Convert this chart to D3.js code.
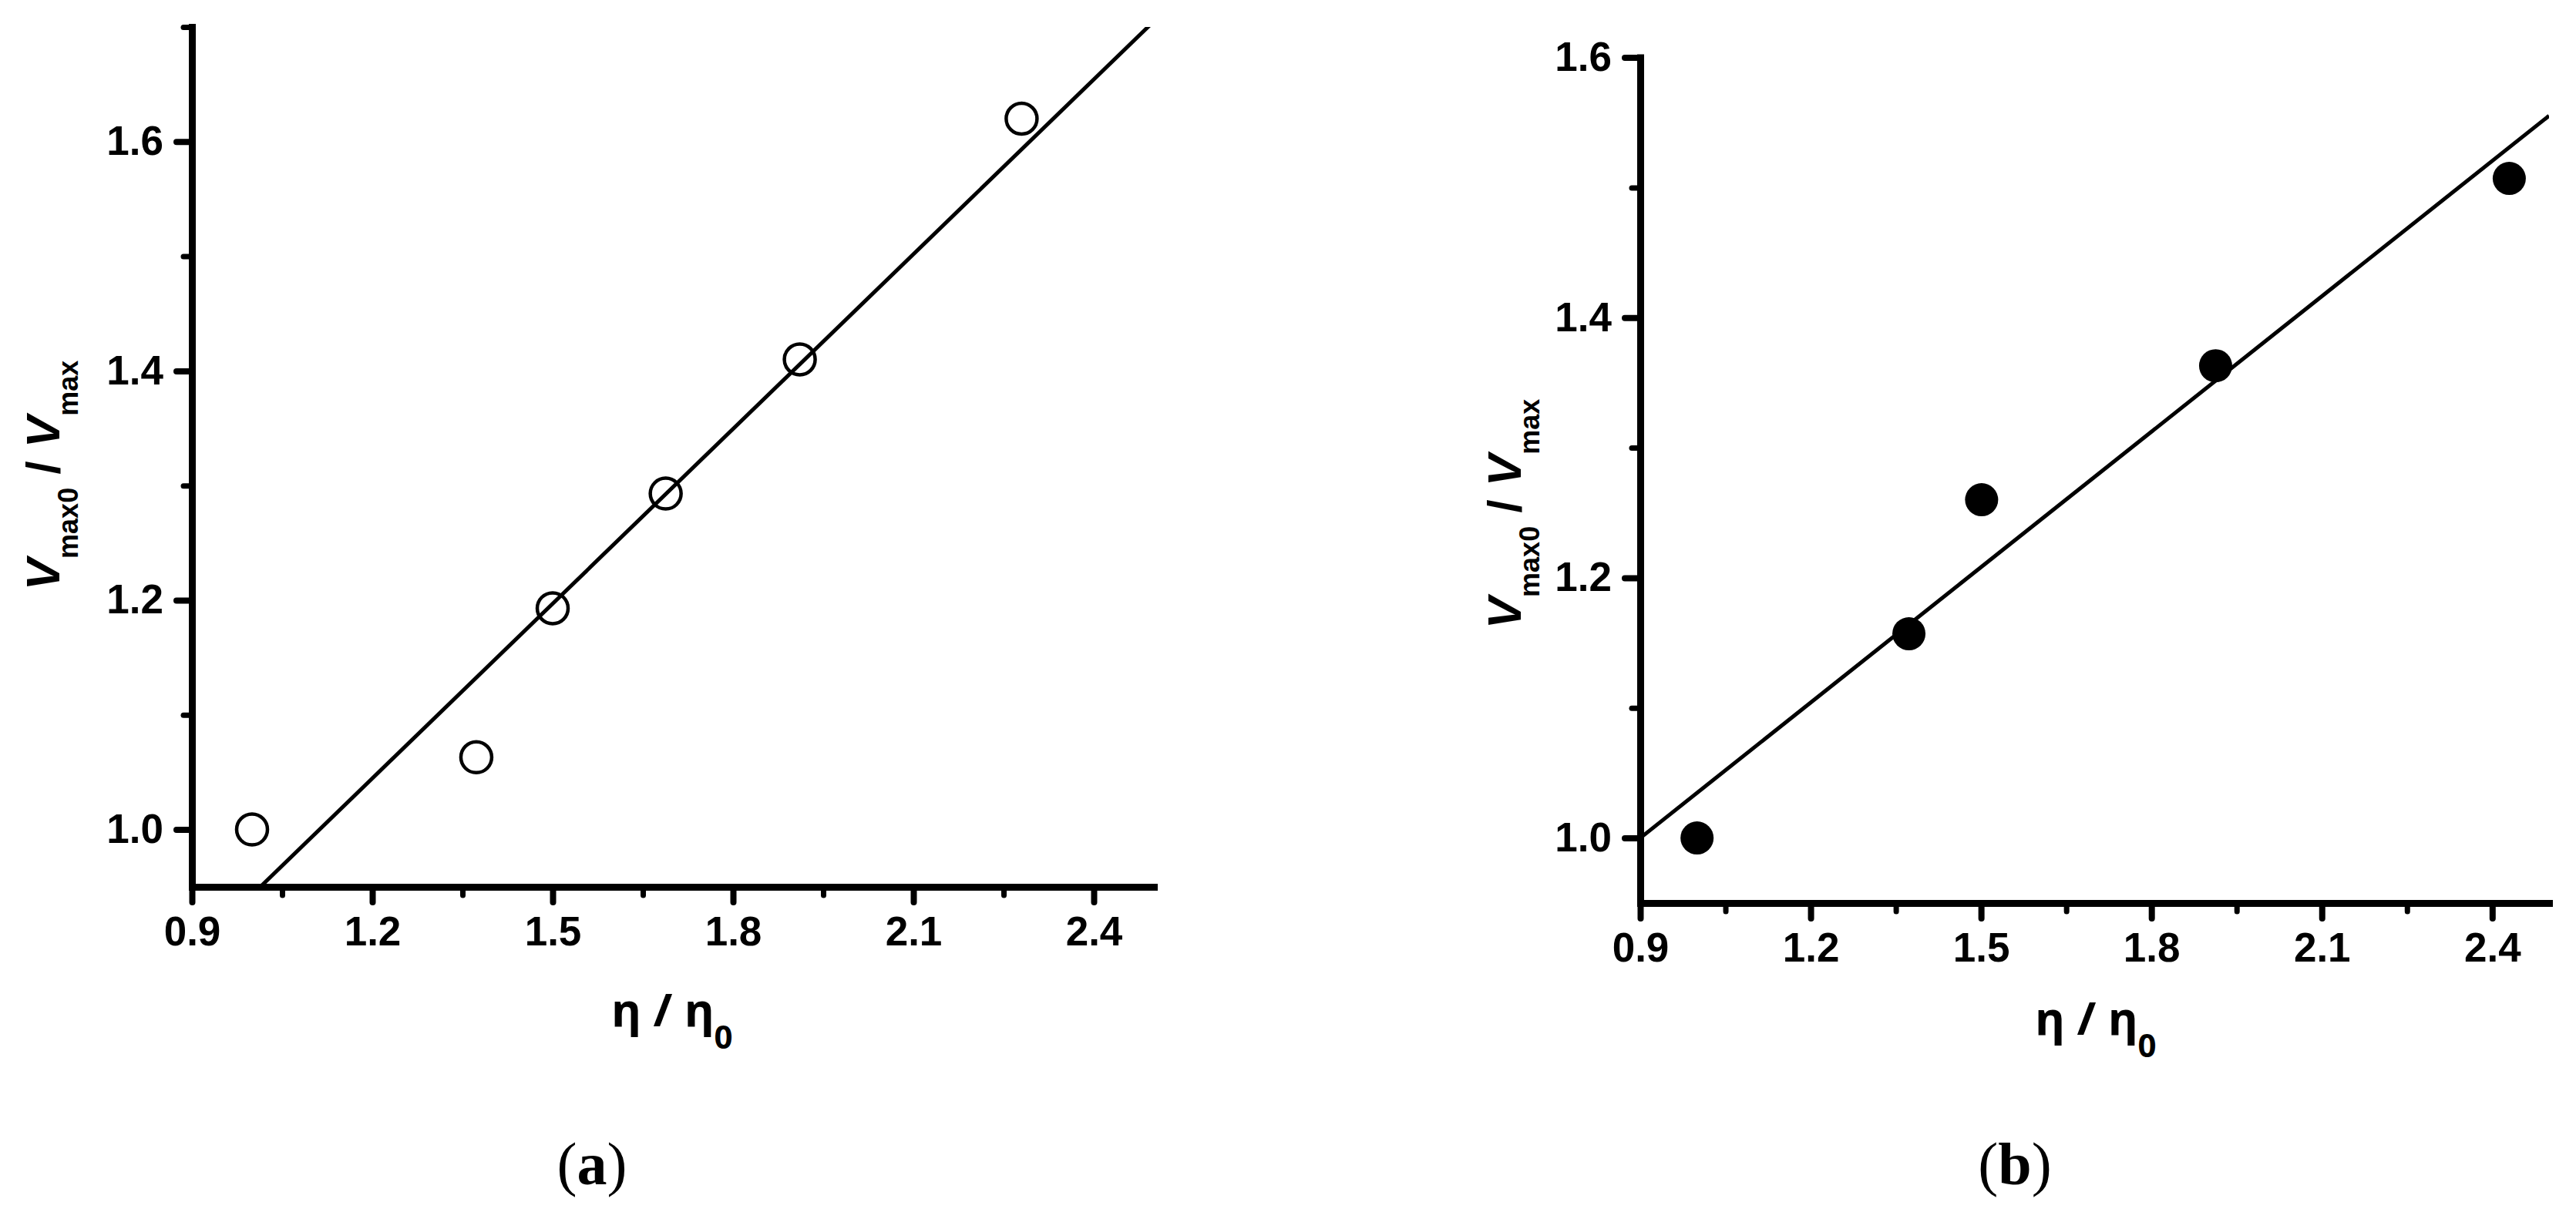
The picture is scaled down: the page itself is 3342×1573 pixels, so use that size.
<!DOCTYPE html>
<html><head><meta charset="utf-8">
<script src="https://cdn.jsdelivr.net/npm/d3@7"></script>
<style>body{margin:0;background:#fff} svg{display:block}</style>
</head><body>
<script>
// ---- data ----
const etaA   = [1.0, 1.373, 1.50, 1.688, 1.911, 2.28];
const ratioA = [1.0, 1.063, 1.193, 1.293, 1.41, 1.62];
const fitA   = [0.435, 0.508];   // intercept, slope
const etaB   = [1.0, 1.373, 1.501, 1.913, 2.43];
const ratioB = [1.0, 1.157, 1.26, 1.363, 1.507];
const fitB   = [0.6877, 0.347];  // intercept, slope
const xTicks  = [0.9, 1.2, 1.5, 1.8, 2.1, 2.4];
const xMinor  = [1.05, 1.35, 1.65, 1.95, 2.25];
const yTicks  = [1.0, 1.2, 1.4, 1.6];
const yMinorA = [1.1, 1.3, 1.5, 1.7];
const yMinorB = [1.1, 1.3, 1.5];
const xDomain = [0.9, 2.5];
const yDomainA = [0.95, 1.7];
const yDomainB = [0.95, 1.6];
const panelLetters = ["a", "b"];

const W = 3342, H = 1573;
const svg = d3.select("body").append("svg").attr("width", W).attr("height", H)
  .style("background", "#fff");

const panels = [
  { id: "a", eta: etaA, ratio: ratioA, fit: fitA, yDomain: yDomainA, yMinor: yMinorA,
    xr: [249, 1497], yr: [1151, 35], filled: false,
    ytitle: [77, 617], xtitle: [872, 1332], label: [768, 1537], letter: panelLetters[0] },
  { id: "b", eta: etaB, ratio: ratioB, fit: fitB, yDomain: yDomainB, yMinor: yMinorB,
    xr: [2128, 3307], yr: [1172, 74.6], filled: true,
    ytitle: [1973, 667], xtitle: [2719, 1343], label: [2614, 1537], letter: panelLetters[1] }
];

const tickFont = "'Liberation Sans', Arial, sans-serif";

panels.forEach(p => {
  const x = d3.scaleLinear().domain(xDomain).range(p.xr);
  const y = d3.scaleLinear().domain(p.yDomain).range(p.yr);
  const g = svg.append("g");

  // clip
  const cid = "clip-" + p.id;
  svg.append("clipPath").attr("id", cid).append("rect")
    .attr("x", x(xDomain[0])).attr("y", y(p.yDomain[1]))
    .attr("width", x(xDomain[1]) - x(xDomain[0]))
    .attr("height", y(p.yDomain[0]) - y(p.yDomain[1]));

  // fit line
  const lineData = xDomain.map(v => [v, p.fit[0] + p.fit[1] * v]);
  g.append("path").datum(lineData)
    .attr("clip-path", `url(#${cid})`)
    .attr("d", d3.line().x(d => x(d[0])).y(d => y(d[1])))
    .attr("fill", "none").attr("stroke", "#000").attr("stroke-width", 5);

  // markers
  g.selectAll("circle.pt").data(p.eta.map((e, i) => [e, p.ratio[i]])).join("circle")
    .attr("class", "pt")
    .attr("cx", d => x(d[0])).attr("cy", d => y(d[1]))
    .attr("r", p.filled ? 21.5 : 20)
    .attr("fill", p.filled ? "#000" : "#fff")
    .attr("fill-opacity", p.filled ? 1 : 0)
    .attr("stroke", "#000").attr("stroke-width", p.filled ? 0 : 4.5);

  // minor ticks
  const xMin = g.append("g").attr("transform", `translate(0,${y(p.yDomain[0])})`)
    .call(d3.axisBottom(x).tickValues(xMinor).tickSize(11).tickFormat(""));
  xMin.select(".domain").remove();
  const yMin = g.append("g").attr("transform", `translate(${x(xDomain[0])},0)`)
    .call(d3.axisLeft(y).tickValues(p.yMinor).tickSize(11).tickFormat(""));
  yMin.select(".domain").remove();
  [xMin, yMin].forEach(a => a.selectAll(".tick line")
    .attr("stroke-width", 7).attr("stroke-linecap", "round"));

  // major axes
  const xAx = g.append("g").attr("transform", `translate(0,${y(p.yDomain[0])})`)
    .call(d3.axisBottom(x).tickValues(xTicks).tickSize(20).tickSizeOuter(0)
      .tickPadding(18).tickFormat(d3.format(".1f")));
  const yAx = g.append("g").attr("transform", `translate(${x(xDomain[0])},0)`)
    .call(d3.axisLeft(y).tickValues(yTicks).tickSize(20).tickSizeOuter(0)
      .tickPadding(17).tickFormat(d3.format(".1f")));
  [xAx, yAx].forEach(a => {
    a.select(".domain").attr("stroke-width", 9).attr("stroke-linecap", "square");
    a.selectAll(".tick line").attr("stroke-width", 8).attr("stroke-linecap", "round");
    a.selectAll(".tick text").attr("font-family", tickFont).attr("font-weight", "bold")
      .attr("font-size", 53).attr("fill", "#000");
  });

  // y title
  const yt = svg.append("text")
    .attr("transform", `translate(${p.ytitle[0]},${p.ytitle[1]}) rotate(-90)`)
    .attr("text-anchor", "middle").attr("font-family", tickFont)
    .attr("font-weight", "bold").attr("font-size", 62).attr("fill", "#000");
  yt.append("tspan").attr("font-style", "italic").text("V");
  yt.append("tspan").attr("font-size", 36).attr("dy", 24).text("max0");
  yt.append("tspan").attr("dy", -24).text(" / ");
  yt.append("tspan").attr("font-style", "italic").text("V");
  yt.append("tspan").attr("font-size", 36).attr("dy", 24).text("max");

  // x title
  const xt = svg.append("text")
    .attr("x", p.xtitle[0]).attr("y", p.xtitle[1])
    .attr("text-anchor", "middle").attr("font-family", "'Noto Sans', sans-serif")
    .attr("font-weight", "bold").attr("font-size", 60).attr("fill", "#000");
  xt.append("tspan").text("η / η");
  xt.append("tspan").attr("font-size", 42).attr("dy", 29).text("0");

  // panel label
  const lt = svg.append("text")
    .attr("x", p.label[0]).attr("y", p.label[1])
    .attr("text-anchor", "middle").attr("font-family", "'Liberation Serif', 'Times New Roman', serif")
    .attr("font-size", 78).attr("fill", "#000");
  lt.append("tspan").text("(");
  lt.append("tspan").attr("font-weight", "bold").text(p.letter);
  lt.append("tspan").text(")");
});
</script>
</body></html>
